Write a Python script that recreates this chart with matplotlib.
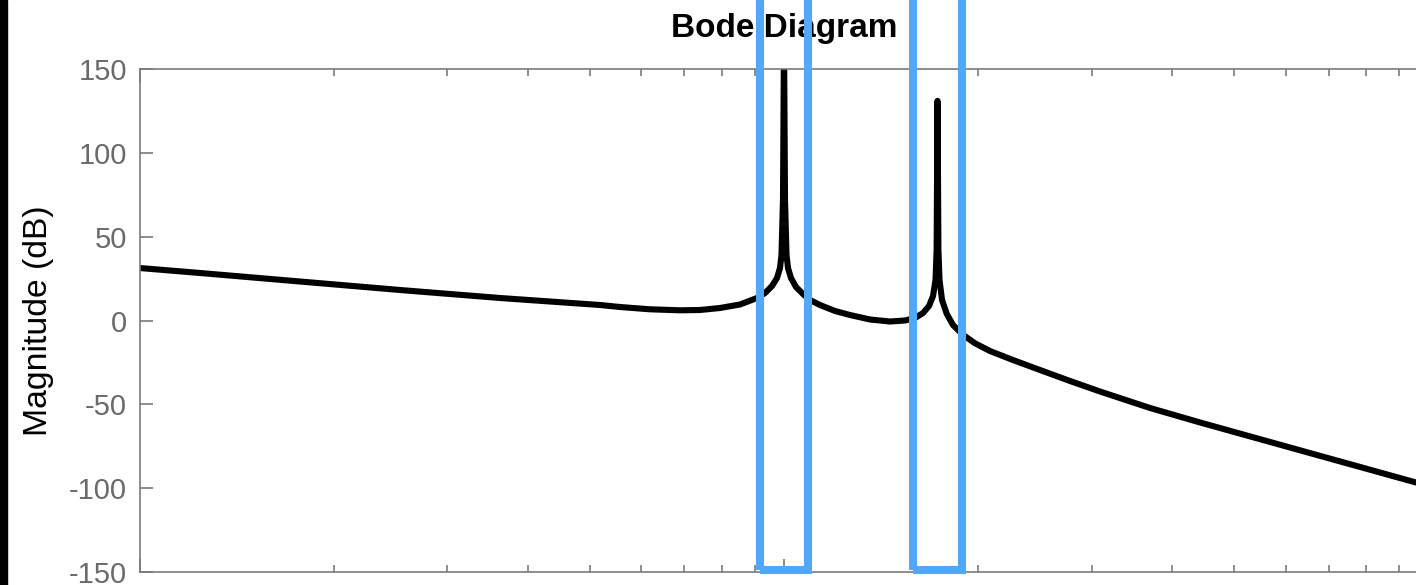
import numpy as np
import matplotlib
matplotlib.use("Agg")
import matplotlib.pyplot as plt
from matplotlib.patches import Rectangle

plt.rcParams['font.family'] = ['Liberation Sans', 'DejaVu Sans']
plt.rcParams['axes.unicode_minus'] = False

# frequency (rad/s) and magnitude (dB)
freq = [0.1, 0.1242, 0.1774, 0.2536, 0.3625, 0.5183, 0.5564, 0.6196, 0.6897,
        0.7409, 0.7956, 0.8545, 0.9081, 0.9344, 0.9581, 0.9753, 0.9858, 0.9911,
        0.9964, 1.0, 1.0036, 1.0090, 1.0144, 1.0253, 1.0438, 1.0702, 1.0973,
        1.1372, 1.2000, 1.2657, 1.3596, 1.4605, 1.5408, 1.5970, 1.6433, 1.6788,
        1.7030, 1.7183, 1.7251, 1.7306, 1.7362, 1.7430, 1.7587, 1.7890, 1.8289,
        1.8969, 1.9788, 2.0873, 2.2658, 2.4954, 2.7784, 3.0925, 3.6983, 4.4218,
        6.3185, 9.5638, 10.0]
mag = [31.31, 28.33, 23.26, 18.19, 13.42, 9.24, 8.05, 6.68, 6.08,
       6.26, 7.46, 9.54, 13.42, 16.40, 20.58, 25.35, 31.31, 39.07,
       71.87, 170.0, 71.87, 39.07, 31.31, 25.35, 19.98, 15.80, 12.23,
       9.24, 5.67, 3.28, 0.60, -0.60, 0.0, 1.49, 4.47, 8.65,
       14.61, 24.15, 42.05, 131.0, 42.05, 24.15, 12.23, 3.88, -2.68,
       -8.65, -13.6, -18.2, -23.56, -29.52, -36.08, -42.35, -52.19, -60.83,
       -77.41, -96.62, -98.71]

yticks = [-150, -100, -50, 0, 50, 100, 150]

# highlighted frequency bands (blue boxes)
bands = [(0.918, 1.089), (1.588, 1.889)]

fig = plt.figure(figsize=(14.16, 5.85), dpi=100)
ax = fig.add_axes([139.5 / 1416, 13 / 585, 1289 / 1416, 503 / 585])

ax.semilogx(freq, mag, color='black', lw=4.4, solid_joinstyle='round')
ax.set_xlim(0.1, 10)
ax.set_ylim(-150, 150)
ax.set_yticks(yticks)
ax.set_yticklabels([str(t) for t in yticks])
ax.set_xticklabels([])
ax.xaxis.set_minor_formatter(plt.NullFormatter())

gray = '#7a7a7a'
for s in ax.spines.values():
    s.set_color(gray)
    s.set_linewidth(1.2)
ax.tick_params(which='both', direction='in', top=True, right=True, color=gray, width=1.2)
ax.tick_params(which='major', length=9.5, pad=9, labelsize=21, labelcolor='#6a6a6a')
ax.tick_params(which='minor', length=5)

ax.set_ylabel('Magnitude (dB)', fontsize=24.3, labelpad=11)
ax.set_title('Bode Diagram', fontsize=24.0, fontweight='bold', pad=23)

for lo, hi in bands:
    ax.add_patch(Rectangle((lo, -149.1), hi - lo, 400, fill=False,
                           edgecolor='#52a8f8', lw=5.8, clip_on=False,
                           joinstyle='miter', zorder=5))

# black border on the left edge
fig.patches.append(Rectangle((0, 0), 7 / 1416, 1, transform=fig.transFigure,
                             color='black', zorder=10))

fig.savefig('out.png', dpi=100)
